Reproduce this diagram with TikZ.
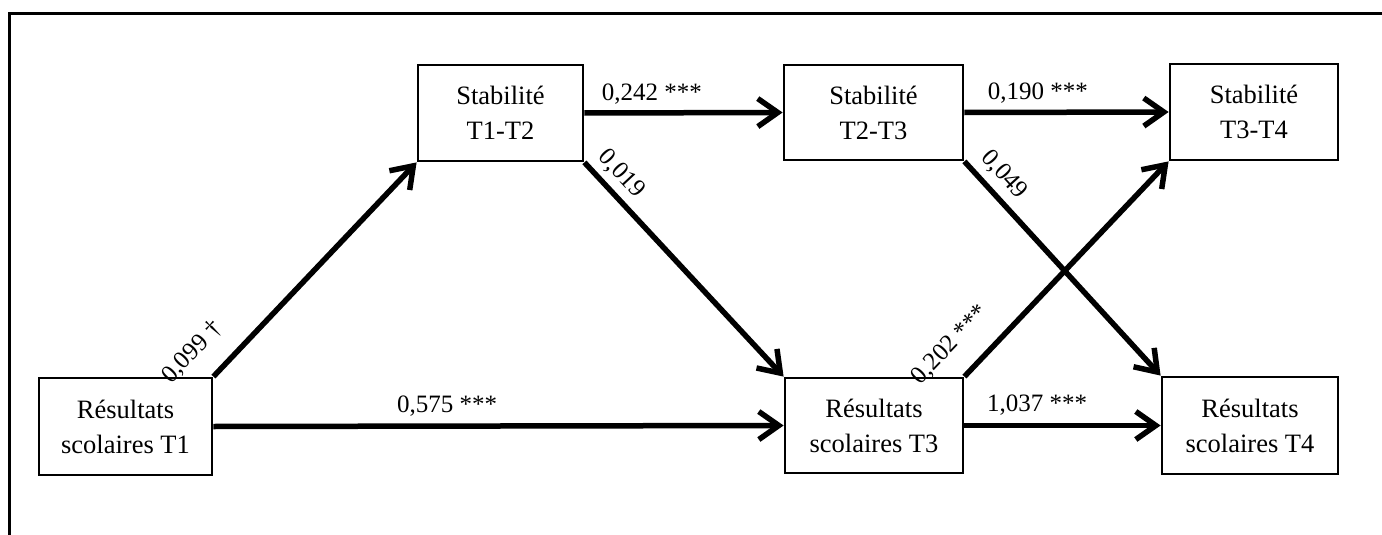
\documentclass[tikz,border=0pt]{standalone}
\usepackage{fontspec}
\setmainfont{Liberation Serif}
\usetikzlibrary{arrows.meta}
\begin{document}
\begin{tikzpicture}[x=1pt,y=-1pt,
  varbox/.style={draw, line width=2.8pt, rectangle, align=center, inner sep=0pt,
    font=\fontsize{26.5}{35}\selectfont},
  link/.style={line width=5.5pt, -{Straight Barb[length=20pt,width=28pt]}},
  coef/.style={font=\fontsize{25}{28}\selectfont, inner sep=1pt}
]
\useasboundingbox (0,0) rectangle (1382,535);
% open frame: left and top rules
\draw[line width=3pt] (9,535) -- (9,14) -- (1382,14);

% variables
\node[varbox, minimum width=173pt, minimum height=97pt] (r1) at (125.5,426.5) {Résultats\\scolaires T1};
\node[varbox, minimum width=165pt, minimum height=96pt] (s12) at (500.5,113) {Stabilité\\T1-T2};
\node[varbox, minimum width=179pt, minimum height=95pt] (s23) at (873.5,112.5) {Stabilité\\T2-T3};
\node[varbox, minimum width=168pt, minimum height=96pt] (s34) at (1254,112) {Stabilité\\T3-T4};
\node[varbox, minimum width=178pt, minimum height=95pt] (r3) at (874,425.5) {Résultats\\scolaires T3};
\node[varbox, minimum width=176pt, minimum height=97pt] (r4) at (1250,425.5) {Résultats\\scolaires T4};

% paths with coefficients
\draw[link] (r1.north east) -- node[coef, sloped, pos=0.01, above=18pt] {0,099 †} (s12.south west);
\draw[link] (r1.east) -- node[coef, pos=0.41, above=6pt] {0,575 ***} (r3.west);
\draw[link] (s12.east) -- node[coef, pos=0.34, above=5pt] {0,242 ***} (s23.west);
\draw[link] (s12.south east) -- node[coef, sloped, pos=0.115, above=5pt] {0,019} (r3.north west);
\draw[link] (s23.east) -- node[coef, pos=0.36, above=5pt] {0,190 ***} (s34.west);
\draw[link] (s23.south east) -- node[coef, sloped, pos=0.127, above=6pt] {0,049} (r4.north west);
\draw[link] (r3.north east) -- node[coef, sloped, pos=0.045, above=18pt] {0,202 ***} (s34.south west);
\draw[link] (r3.east) -- node[coef, pos=0.37, above=6pt] {1,037 ***} (r4.west);
\end{tikzpicture}
\end{document}
